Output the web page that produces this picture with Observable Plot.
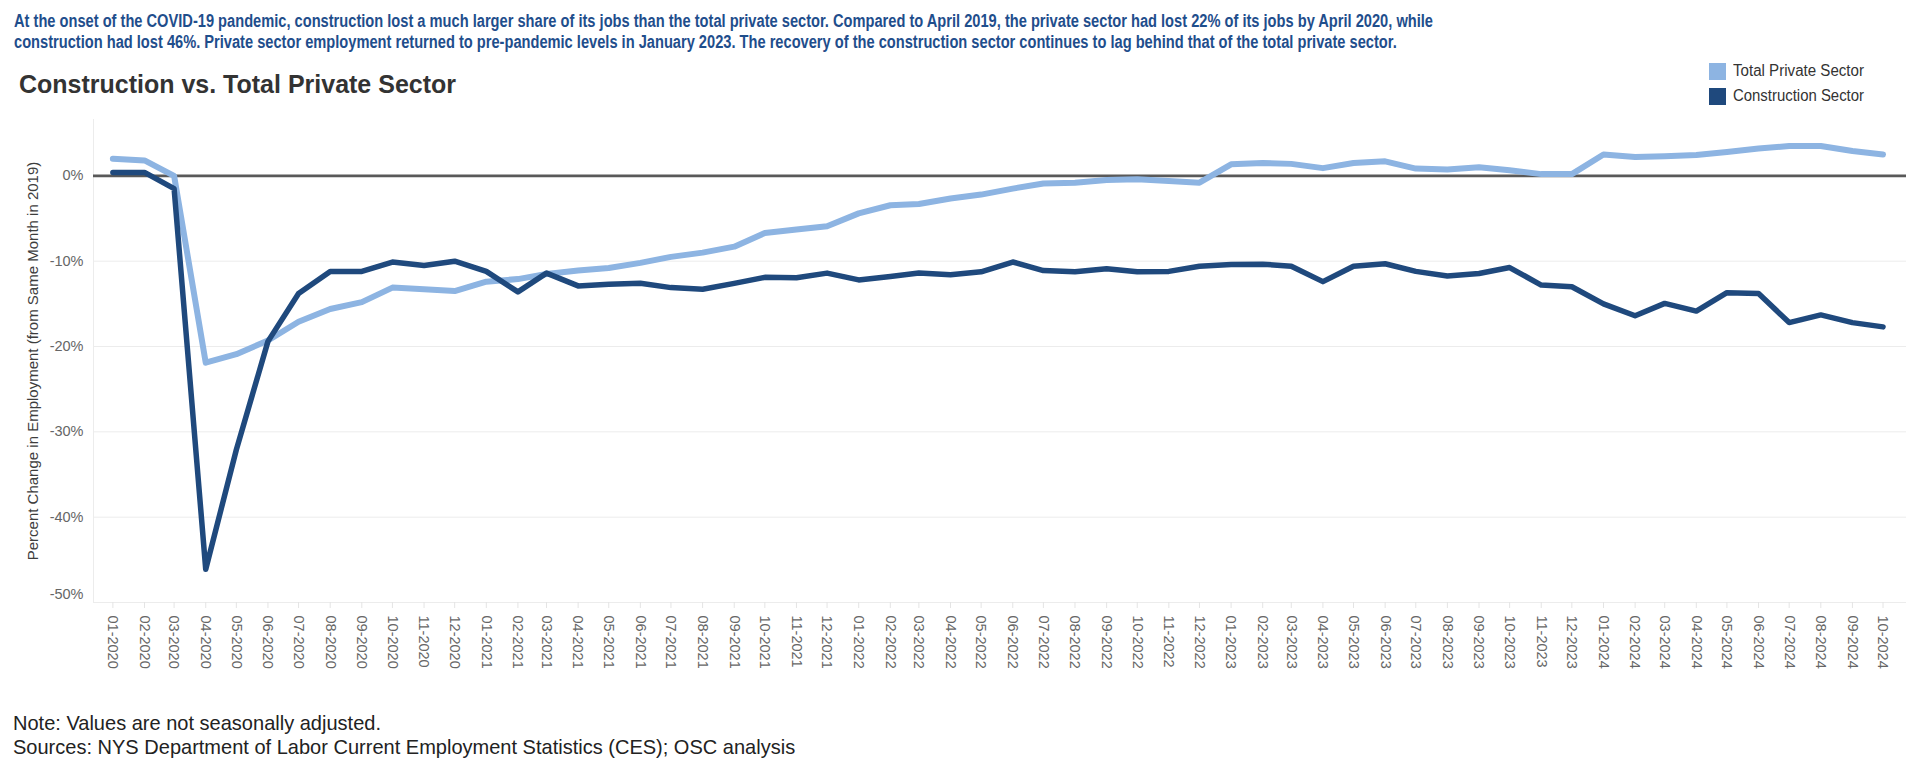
<!DOCTYPE html>
<html>
<head>
<meta charset="utf-8">
<script src="https://cdn.jsdelivr.net/npm/d3@7"></script>
<script src="https://cdn.jsdelivr.net/npm/@observablehq/plot@0.6"></script>
<style>
  html, body { margin: 0; padding: 0; background: #fff; }
  #wrap { position: relative; width: 1920px; height: 769px; overflow: hidden; font-family: "Liberation Sans", Arial, sans-serif; }
  .fit { position: absolute; white-space: nowrap; transform-origin: 0 0; }
  .sub { left: 14px; font-family: "Liberation Sans", Arial, sans-serif; font-weight: bold; font-size: 18px; line-height: 18px; color: #1f4e8c; }
  .title { left: 19px; top: 71px; font-size: 26px; line-height: 26px; font-weight: bold; color: #333; }
  .leg { left: 1733px; font-size: 16px; line-height: 16px; color: #333; }
  .sw { position: absolute; left: 1709px; width: 17px; height: 17px; }
  .note { left: 13px; font-size: 21px; line-height: 21px; color: #222; }
  #chart { position: absolute; left: 0; top: 110px; }
</style>
</head>
<body>
<div id="wrap"></div>
<script>
// ---------------- data ----------------
const months = [
  "2020-01","2020-02","2020-03","2020-04","2020-05","2020-06","2020-07","2020-08","2020-09","2020-10","2020-11","2020-12",
  "2021-01","2021-02","2021-03","2021-04","2021-05","2021-06","2021-07","2021-08","2021-09","2021-10","2021-11","2021-12",
  "2022-01","2022-02","2022-03","2022-04","2022-05","2022-06","2022-07","2022-08","2022-09","2022-10","2022-11","2022-12",
  "2023-01","2023-02","2023-03","2023-04","2023-05","2023-06","2023-07","2023-08","2023-09","2023-10","2023-11","2023-12",
  "2024-01","2024-02","2024-03","2024-04","2024-05","2024-06","2024-07","2024-08","2024-09","2024-10"
];
const totalPrivate = [
  2.0, 1.8, 0.0, -21.9, -20.9, -19.3, -17.1, -15.6, -14.8, -13.1, -13.3, -13.5,
  -12.4, -12.1, -11.5, -11.1, -10.8, -10.2, -9.5, -9.0, -8.3, -6.7, -6.3, -5.9,
  -4.4, -3.45, -3.3, -2.65, -2.2, -1.5, -0.9, -0.8, -0.5, -0.4, -0.6, -0.8,
  1.35, 1.5, 1.4, 0.9, 1.5, 1.7, 0.85, 0.75, 1.0, 0.65, 0.2, 0.2,
  2.5, 2.2, 2.3, 2.45, 2.8, 3.2, 3.5, 3.5, 2.9, 2.5
];
const construction = [
  0.4, 0.4, -1.5, -46.1, -32.1, -19.4, -13.8, -11.2, -11.2, -10.1, -10.5, -10.0,
  -11.2, -13.6, -11.4, -12.9, -12.7, -12.6, -13.1, -13.3, -12.6, -11.9, -11.95, -11.4,
  -12.2, -11.8, -11.4, -11.6, -11.25, -10.1, -11.1, -11.25, -10.9, -11.25, -11.2, -10.6,
  -10.4, -10.35, -10.6, -12.4, -10.6, -10.3, -11.2, -11.75, -11.45, -10.75, -12.8, -13.0,
  -15.0, -16.4, -14.95, -15.85, -13.7, -13.8, -17.2, -16.3, -17.2, -17.7
];
const seriesNames = ["Total Private Sector", "Construction Sector"];
const seriesColors = ["#8db4e2", "#1f497d"];
const yTicks = [0, -10, -20, -30, -40, -50];
const yLabel = "Percent Change in Employment (from Same Month in 2019)";
const subtitleLines = [
  "At the onset of the COVID-19 pandemic, construction lost a much larger share of its jobs than the total private sector. Compared to April 2019, the private sector had lost 22% of its jobs by April 2020, while",
  "construction had lost 46%. Private sector employment returned to pre-pandemic levels in January 2023. The recovery of the construction sector continues to lag behind that of the total private sector."
];
const titleText = "Construction vs. Total Private Sector";
const noteLines = [
  "Note: Values are not seasonally adjusted.",
  "Sources: NYS Department of Labor Current Employment Statistics (CES); OSC analysis"
];

// ---------------- build ----------------
const wrap = document.getElementById("wrap");
const parseMonth = d3.utcParse("%Y-%m");
const dates = months.map(parseMonth);
const privData = dates.map((d, i) => ({date: d, value: totalPrivate[i]}));
const consData = dates.map((d, i) => ({date: d, value: construction[i]}));
const xDomain = [new Date(Date.UTC(2019, 11, 13)), new Date(Date.UTC(2024, 9, 24))];

function addText(cls, text, top, target) {
  const el = document.createElement("div");
  el.className = "fit " + cls;
  el.textContent = text;
  el.style.top = top + "px";
  wrap.appendChild(el);
  if (target) {
    const w = el.getBoundingClientRect().width;
    el.style.transform = `scaleX(${target / w})`;
  }
  return el;
}

// subtitle (two lines, same scale)
const s1 = addText("sub", subtitleLines[0], 12);
const s2 = addText("sub", subtitleLines[1], 33);
const subScale = 1419 / s1.getBoundingClientRect().width;
s1.style.transform = s2.style.transform = `scaleX(${subScale})`;

addText("title", titleText, 71, 437);

seriesNames.forEach((name, i) => {
  const sw = document.createElement("div");
  sw.className = "sw";
  sw.style.top = (63 + i * 25) + "px";
  sw.style.background = seriesColors[i];
  wrap.appendChild(sw);
  addText("leg", name, 63 + i * 25, 131);
});

const n1 = addText("note", noteLines[0], 712);
const n2 = addText("note", noteLines[1], 736);
const noteScale = 368 / n1.getBoundingClientRect().width;
n1.style.transform = n2.style.transform = `scaleX(${noteScale})`;

const chart = Plot.plot({
  width: 1920,
  height: 562,
  marginLeft: 93,
  marginRight: 14,
  marginTop: 9,
  marginBottom: 70,
  style: {fontFamily: "'Liberation Sans', Arial, sans-serif", fontSize: "14.5px", background: "transparent", color: "#666"},
  x: {type: "utc", domain: xDomain, label: null},
  y: {domain: [-50, 6.6], label: null},
  marks: [
    Plot.gridY(yTicks.filter(d => d !== 0 && d !== -50), {stroke: "#ececec", strokeOpacity: 1}),
    Plot.ruleX([xDomain[0]], {stroke: "#ececec"}),
    Plot.ruleY([-50], {stroke: "#ececec"}),
    Plot.axisX(dates, {
      tickFormat: d3.utcFormat("%m-%Y"),
      tickRotate: 90,
      tickSize: 6,
      tickPadding: 7,
      stroke: "#e4e4e4",
      fill: "#666",
      label: null
    }),
    Plot.axisY(yTicks.filter(d => d !== -50), {
      tickFormat: d => `${d}%`, tickSize: 0, tickPadding: 10, fill: "#666", label: null
    }),
    Plot.axisY([-50], {
      tickFormat: d => `${d}%`, tickSize: 0, tickPadding: 10, fill: "#666", label: null, dy: -8
    }),
    Plot.text([yLabel], {frameAnchor: "left", textAnchor: "middle", dx: -60, rotate: -90, fill: "#3d3d3d", fontSize: 15}),
    Plot.ruleY([0], {stroke: "#595959", strokeWidth: 2.8}),
    Plot.line(privData, {x: "date", y: "value", stroke: seriesColors[0], strokeWidth: 6, strokeLinecap: "round", strokeLinejoin: "round"}),
    Plot.line(consData, {x: "date", y: "value", stroke: seriesColors[1], strokeWidth: 5.5, strokeLinecap: "round", strokeLinejoin: "round"})
  ]
});
chart.id = "chart";
wrap.appendChild(chart);
</script>
</body>
</html>
